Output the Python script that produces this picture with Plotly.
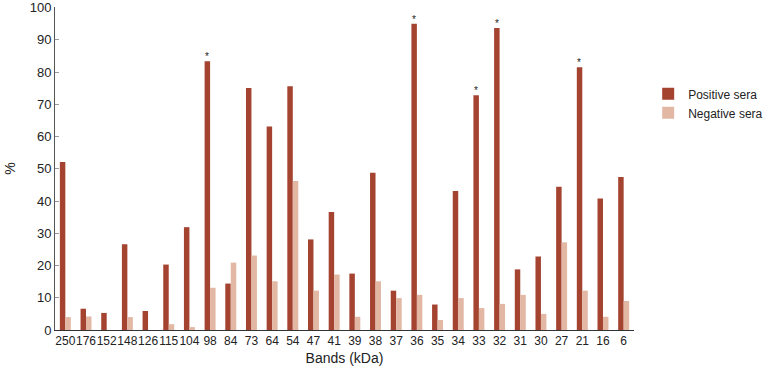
import plotly.graph_objects as go

bands = ["250", "176", "152", "148", "126", "115", "104", "98", "84", "73", "64", "54", "47",
         "41", "39", "38", "37", "36", "35", "34", "33", "32", "31", "30", "27", "21", "16", "6"]
positive = [52.1, 6.6, 5.3, 26.6, 5.9, 20.3, 31.9, 83.4, 14.4, 75.1, 63.1, 75.6, 28.1,
            36.6, 17.5, 48.8, 12.2, 95.0, 7.9, 43.1, 72.8, 93.7, 18.8, 22.8, 44.4, 81.5, 40.8, 47.5]
negative = [4.0, 4.2, 0, 4.0, 0, 1.8, 0.9, 13.1, 20.9, 23.1, 15.1, 46.2, 12.2,
            17.2, 4.1, 15.1, 9.9, 10.9, 3.1, 9.9, 6.8, 8.1, 10.9, 5.0, 27.2, 12.2, 4.1, 9.0]
significant = ["98", "36", "33", "32", "21"]

FONT = "Liberation Sans, Arial, sans-serif"

fig = go.Figure()
fig.add_trace(go.Bar(x=bands, y=positive, name="Positive sera", marker_color="#A54331",
                     marker_line_width=0))
fig.add_trace(go.Bar(x=bands, y=negative, name="Negative sera", marker_color="#E2B7A4",
                     marker_line_width=0))

for i, (b, v) in enumerate(zip(bands, positive)):
    if b in significant:
        fig.add_annotation(x=i, y=v, text="*", showarrow=False, yanchor="bottom",
                           xshift=-3, yshift=-3,
                           font=dict(size=10, color="#222222", family=FONT))

fig.update_layout(
    width=769, height=372,
    margin=dict(l=55, r=135, t=7, b=42, autoexpand=False),
    paper_bgcolor="white", plot_bgcolor="white",
    barmode="group", bargap=0.47, bargroupgap=0,
    font=dict(family=FONT, size=13, color="#222222"),
    legend=dict(x=1.0245, y=0.776, xanchor="left", yanchor="top",
                font=dict(size=12, color="#222222"), tracegroupgap=0),
    xaxis=dict(type="category", range=[-0.5, len(bands) - 0.5], showline=True,
               linecolor="#333333", linewidth=1, ticks="",
               tickangle=0, tickfont=dict(size=12),
               title=dict(text="Bands (kDa)", font=dict(size=14), standoff=5),
               showgrid=False),
    yaxis=dict(range=[0, 100.2], tickvals=list(range(0, 101, 10)), showline=True,
               linecolor="#555555", linewidth=1,
               ticks="inside", ticklen=4, tickcolor="#999999", showgrid=False, zeroline=False,
               tickfont=dict(size=13), title=dict(text="%", font=dict(size=14), standoff=10)),
)

fig.write_html("out.html")
